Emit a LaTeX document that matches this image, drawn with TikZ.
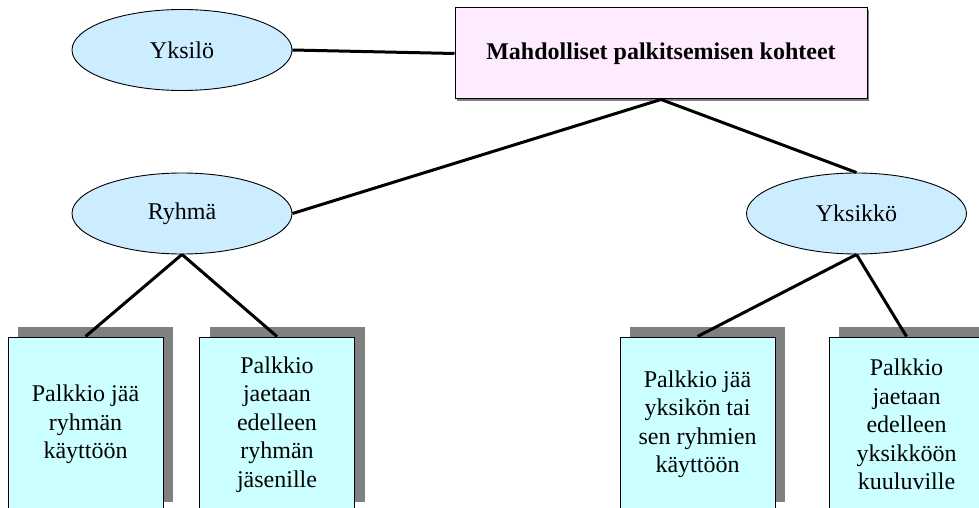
\documentclass[tikz,border=0pt]{standalone}
\usepackage{fontspec}
\setmainfont{Liberation Serif}
\usetikzlibrary{shapes.geometric,shadows}
\definecolor{ovalblue}{HTML}{CCECFF}
\definecolor{boxcyan}{HTML}{CCFFFF}
\definecolor{titlepink}{HTML}{FFEBFF}
\definecolor{shadegray}{HTML}{808080}
\begin{document}
\begin{tikzpicture}[x=1pt,y=-1pt,
  every node/.style={font=\fontsize{24}{28.5}\selectfont},
  oval/.style={ellipse, draw, line width=0.9pt, fill=ovalblue,
    minimum width=220pt, minimum height=81pt, inner sep=0pt},
  leaf/.style={rectangle, draw, line width=1pt, fill=boxcyan,
    minimum width=155pt, minimum height=175pt, inner sep=0pt, align=center,
    general shadow={fill=shadegray, shadow xshift=10pt, shadow yshift=10pt}},
  topbox/.style={rectangle, draw, line width=1pt, fill=titlepink,
    minimum width=412pt, minimum height=91pt, inner sep=0pt,
    font=\fontsize{24}{28.5}\selectfont\bfseries,
    general shadow={fill=shadegray, shadow xshift=2pt, shadow yshift=-2pt}},
  link/.style={line width=3pt}]
\useasboundingbox (0,0) rectangle (979,508);
\clip (0,0) rectangle (979,508);

% title box and the three groups
\node[topbox] (top) at (661,53.5) {Mahdolliset palkitsemisen kohteet};
\node[oval] (yksilo) at (182,50) {Yksilö};
\node[oval] (ryhma) at (182,213.5) {Ryhmä};
\node[oval] (yksikko) at (856.5,213.5) {Yksikkö};

% leaf boxes
\node[leaf] (r1) at (85.5,424.5) {Palkkio jää\\ryhmän\\käyttöön};
\node[leaf] (r2) at (277,424.5) {Palkkio\\jaetaan\\edelleen\\ryhmän\\jäsenille};
\node[leaf] (y1) at (697.5,424.5) {Palkkio jää\\yksikön tai\\sen ryhmien\\käyttöön};
\node[leaf] (y2) at (906.5,424.5) {Palkkio\\jaetaan\\edelleen\\yksikköön\\kuuluville};

% connectors
\draw[link] (yksilo.east) -- (top.west);
\draw[link] (top.south) -- (ryhma.east);
\draw[link] (top.south) -- (yksikko.north);
\draw[link] (ryhma.south) -- (r1.north);
\draw[link] (ryhma.south) -- (r2.north);
\draw[link] (yksikko.south) -- (y1.north);
\draw[link] (yksikko.south) -- (y2.north);
\end{tikzpicture}
\end{document}
